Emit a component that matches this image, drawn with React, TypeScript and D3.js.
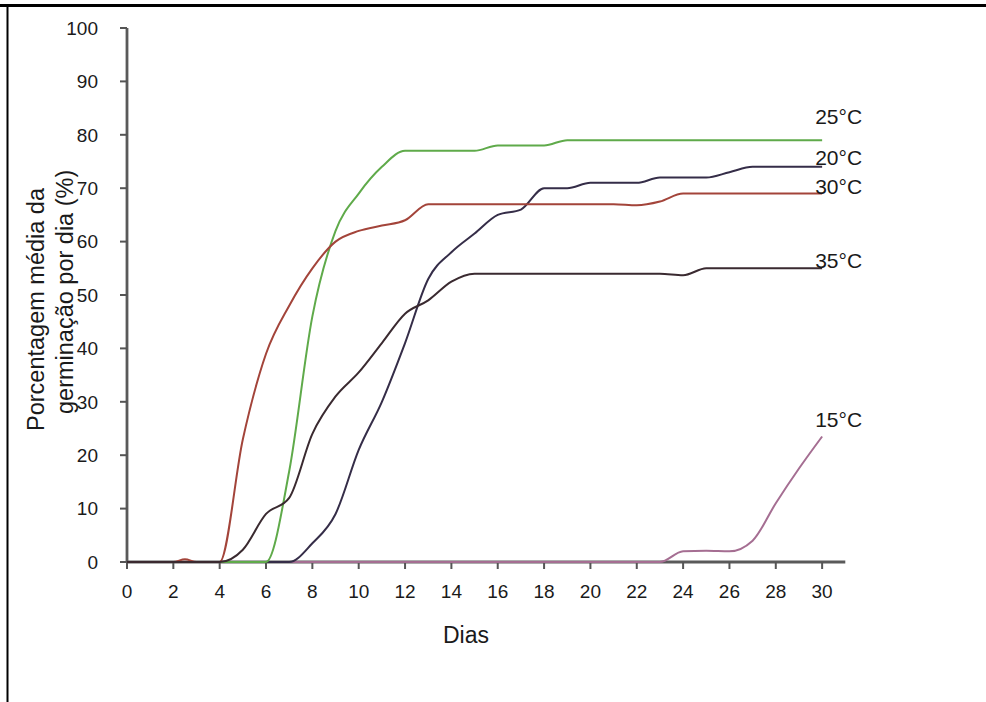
import * as d3 from "d3";
import { useEffect, useRef } from "react";

// germination curves (days vs % per day)
const dayTicks = [0, 2, 4, 6, 8, 10, 12, 14, 16, 18, 20, 22, 24, 26, 28, 30];
const pctTicks = [0, 10, 20, 30, 40, 50, 60, 70, 80, 90, 100];

const days = [0, 1, 2, 3, 4, 5, 6, 7, 8, 9, 10, 11, 12, 13, 14, 15, 16, 17, 18, 19, 20, 21, 22, 23, 24, 25, 26, 27, 28, 29, 30];

const t15 = [0, 0, 0, 0, 0, 0, 0, 0, 0, 0, 0, 0, 0, 0, 0, 0, 0, 0, 0, 0, 0, 0, 0, 0, 2, 2.1, 2, 4, 11, 17.5, 23.5];
const t20 = [0, 0, 0, 0, 0, 0, 0, 0, 3.5, 9, 21, 30, 41, 53, 58, 61.5, 65, 66, 70, 70, 71, 71, 71, 72, 72, 72, 73, 74, 74, 74, 74];
const t25 = [0, 0, 0, 0, 0, 0, 0, 17, 46, 62, 69, 74, 77, 77, 77, 77, 78, 78, 78, 79, 79, 79, 79, 79, 79, 79, 79, 79, 79, 79, 79];
const t30Days = [0, 1, 2, 2.5, 3, 4, 5, 6, 7, 8, 9, 10, 11, 12, 13, 14, 15, 16, 17, 18, 19, 20, 21, 22, 23, 24, 25, 26, 27, 28, 29, 30];
const t30 = [0, 0, 0, 0.5, 0, 0, 23, 39, 48, 55, 60, 62, 63, 64, 67, 67, 67, 67, 67, 67, 67, 67, 67, 66.8, 67.5, 69, 69, 69, 69, 69, 69, 69];
const t35 = [0, 0, 0, 0, 0, 2.3, 9, 12, 24, 31, 35.5, 41, 46.5, 49, 52.5, 54, 54, 54, 54, 54, 54, 54, 54, 54, 53.7, 55, 55, 55, 55, 55, 55];

const seriesNames = ["15°C", "20°C", "25°C", "30°C", "35°C"];

const App = () => {
    const ref = useRef<SVGSVGElement | null>(null);

    useEffect(() => {
        const svg = d3.select(ref.current);
        svg.selectAll("*").remove();

        const x = d3.scaleLinear().domain([0, 31]).range([127, 845.3]);
        const y = d3.scaleLinear().domain([0, 100]).range([562, 28]);

        const series = [
            { name: seriesNames[0], xs: days, ys: t15, color: "#a56e92", dy: -10 },
            { name: seriesNames[1], xs: days, ys: t20, color: "#352d48", dy: -2 },
            { name: seriesNames[2], xs: days, ys: t25, color: "#5faa4a", dy: -16 },
            { name: seriesNames[3], xs: t30Days, ys: t30, color: "#a3443a", dy: 0 },
            { name: seriesNames[4], xs: days, ys: t35, color: "#3a2a30", dy: 0 },
        ];

        // frame bits of the cropped figure
        svg.append("line").attr("x1", 0).attr("x2", 986).attr("y1", 5.5).attr("y2", 5.5)
            .attr("stroke", "#000").attr("stroke-width", 3);
        svg.append("line").attr("x1", 7.5).attr("x2", 7.5).attr("y1", 5).attr("y2", 702)
            .attr("stroke", "#000").attr("stroke-width", 2);

        const font = "Liberation Sans, Arial, sans-serif";

        // y axis
        const ya = svg.append("g");
        ya.append("line").attr("x1", x(0)).attr("x2", x(0)).attr("y1", y(100)).attr("y2", y(0))
            .attr("stroke", "#5a5a5a").attr("stroke-width", 2.8);
        ya.selectAll("line.tk").data(pctTicks).enter().append("line").attr("class", "tk")
            .attr("x1", x(0) - 7).attr("x2", x(0)).attr("y1", d => y(d)).attr("y2", d => y(d))
            .attr("stroke", "#555").attr("stroke-width", 2);
        ya.selectAll("text").data(pctTicks).enter().append("text")
            .attr("x", 98).attr("y", d => y(d)).attr("dy", "0.36em")
            .attr("text-anchor", "end").attr("font-family", font).attr("font-size", 19)
            .attr("fill", "#1a1a1a").text(d => d);

        // x axis
        const xa = svg.append("g");
        xa.append("line").attr("x1", x(0)).attr("x2", x(31)).attr("y1", y(0)).attr("y2", y(0))
            .attr("stroke", "#5a5a5a").attr("stroke-width", 2.8);
        xa.selectAll("line.tk").data(dayTicks).enter().append("line").attr("class", "tk")
            .attr("x1", d => x(d)).attr("x2", d => x(d)).attr("y1", y(0)).attr("y2", y(0) + 7)
            .attr("stroke", "#555").attr("stroke-width", 2);
        xa.selectAll("text").data(dayTicks).enter().append("text")
            .attr("x", d => x(d)).attr("y", 598)
            .attr("text-anchor", "middle").attr("font-family", font).attr("font-size", 19)
            .attr("fill", "#1a1a1a").text(d => d);

        svg.append("text").attr("x", 466).attr("y", 643).attr("text-anchor", "middle")
            .attr("font-family", font).attr("font-size", 23).attr("fill", "#1a1a1a").text("Dias");

        const yt = svg.append("text").attr("transform", "translate(44,431) rotate(-90)")
            .attr("font-family", font).attr("font-size", 23.5).attr("fill", "#1a1a1a");
        yt.append("tspan").attr("x", 0).attr("y", 0).text("Porcentagem média da");
        yt.append("tspan").attr("x", 17).attr("y", 29).text("germinação por dia (%)");

        // curves
        const line = d3.line<[number, number]>()
            .x(d => x(d[0]))
            .y(d => y(d[1]))
            .curve(d3.curveMonotoneX);

        svg.append("g").selectAll("path")
            .data(series).enter().append("path")
            .attr("d", s => line(s.xs.map((v, i) => [v, s.ys[i]] as [number, number])))
            .attr("fill", "none")
            .attr("stroke", s => s.color)
            .attr("stroke-width", 2);

        // end labels, cut at the figure's crop edge
        svg.append("clipPath").attr("id", "crop").append("rect")
            .attr("x", 0).attr("y", 0).attr("width", 862).attr("height", 702);
        svg.append("g").attr("clip-path", "url(#crop)")
            .selectAll("text").data(series).enter().append("text")
            .attr("x", x(29.7))
            .attr("y", s => y(s.ys[s.ys.length - 1]) + s.dy)
            .attr("font-family", font).attr("font-size", 21).attr("fill", "#1a1a1a")
            .text(s => s.name);
    }, []);

    return (
        <svg ref={ref} width={986} height={702}
             style={{ position: "absolute", left: 0, top: 0, background: "#fff" }} />
    );
};

export default App;
